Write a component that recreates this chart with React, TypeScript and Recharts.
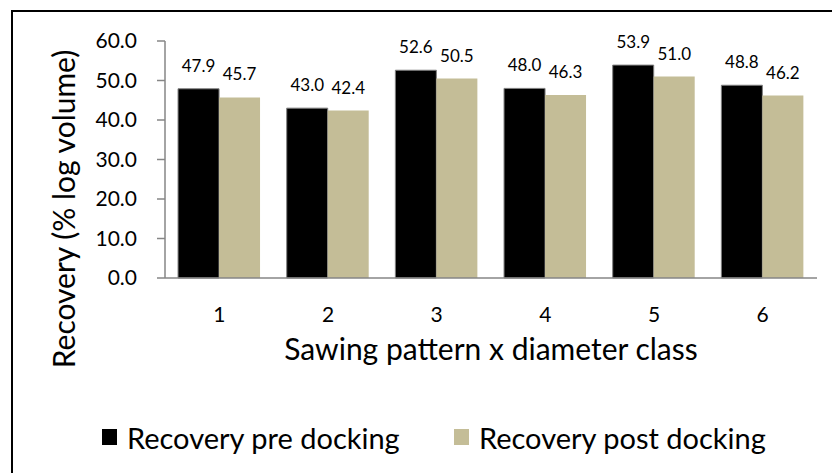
import React from "react";
import { Bar, BarChart, LabelList, Legend, XAxis, YAxis } from "recharts";

document.body.style.margin = "0";

const categories = ["1", "2", "3", "4", "5", "6"];
const preDocking = [47.9, 43.0, 52.6, 48.0, 53.9, 48.8];
const postDocking = [45.7, 42.4, 50.5, 46.3, 51.0, 46.2];
const yTicks = [0, 10, 20, 30, 40, 50, 60];

const seriesNames = ["Recovery pre docking", "Recovery post docking"];
const colors = ["#000000", "#C4BD97"];

const data = categories.map((c, i) => ({ name: c, pre: preDocking[i], post: postDocking[i] }));

const font = "Lato, Carlito, Calibri, sans-serif";

function LegendBox() {
  return (
    <div style={{ position: "relative", height: 40, fontFamily: font, fontSize: 29, color: "#000" }}>
      {seriesNames.map((name, i) => (
        <div
          key={name}
          style={{ position: "absolute", left: i === 0 ? 102 : 454, top: 0, height: 40, display: "flex", alignItems: "center", whiteSpace: "nowrap" }}
        >
          <span style={{ display: "inline-block", width: 15, height: 16, background: colors[i], marginRight: 10 }} />
          <span>{name}</span>
        </div>
      ))}
    </div>
  );
}

export default function App() {
  return (
    <div style={{ position: "relative", width: 832, height: 473, overflow: "hidden", background: "#fff" }}>
      <BarChart
        width={832}
        height={473}
        data={data}
        margin={{ top: 41, right: 15, left: 0, bottom: 16 }}
        barCategoryGap="12%"
        barGap={0}
      >
        <XAxis
          dataKey="name"
          height={139}
          tickLine={false}
          tickSize={0}
          tickMargin={29}
          axisLine={{ stroke: "#868686", strokeWidth: 1.5 }}
          tick={{ fill: "#000", fontSize: 21, fontFamily: font }}
          label={(props: any) => {
            const vb = props.viewBox;
            return (
              <text x={vb.x + vb.width / 2} y={360} textAnchor="middle" fontSize={30} fontFamily={font} fill="#000">
                Sawing pattern x diameter class
              </text>
            );
          }}
        />
        <XAxis xAxisId="top" orientation="top" dataKey="name" height={0} tick={false} tickLine={false} axisLine={{ stroke: "#000", strokeWidth: 1.5 }} />
        <YAxis
          domain={[0, 60]}
          ticks={yTicks}
          width={165}
          tickSize={8}
          tickMargin={20}
          interval={0}
          tickFormatter={(v: number) => v.toFixed(1)}
          tickLine={{ stroke: "#868686", strokeWidth: 1.5 }}
          axisLine={{ stroke: "#868686", strokeWidth: 1.5 }}
          tick={{ fill: "#000", fontSize: 21, fontFamily: font }}
          label={() => (
            <text x={75} y={209} transform="rotate(-90 75 209)" textAnchor="middle" fontSize={30} fontFamily={font} fill="#000">
              Recovery (% log volume)
            </text>
          )}
        />
        <YAxis yAxisId="right" orientation="right" domain={[0, 60]} width={0} tick={false} tickLine={false} axisLine={{ stroke: "#000", strokeWidth: 1.5 }} />
        <Legend verticalAlign="bottom" wrapperStyle={{ left: 0, width: 832 }} content={() => <LegendBox />} />
        <Bar dataKey="pre" name={seriesNames[0]} fill={colors[0]} stroke="#7f7f7f" strokeWidth={1} isAnimationActive={false}>
          <LabelList dataKey="pre" position="top" offset={17} formatter={(v: any) => Number(v).toFixed(1)} style={{ fill: "#000", fontSize: 17, fontFamily: font }} />
        </Bar>
        <Bar dataKey="post" name={seriesNames[1]} fill={colors[1]} isAnimationActive={false}>
          <LabelList dataKey="post" position="top" offset={17} formatter={(v: any) => Number(v).toFixed(1)} style={{ fill: "#000", fontSize: 17, fontFamily: font }} />
        </Bar>
      </BarChart>
      <div
        style={{
          position: "absolute",
          left: 11,
          top: 10,
          width: 1000,
          height: 1000,
          borderTop: "2px solid #000",
          borderLeft: "2px solid #000",
          pointerEvents: "none",
        }}
      />
    </div>
  );
}
